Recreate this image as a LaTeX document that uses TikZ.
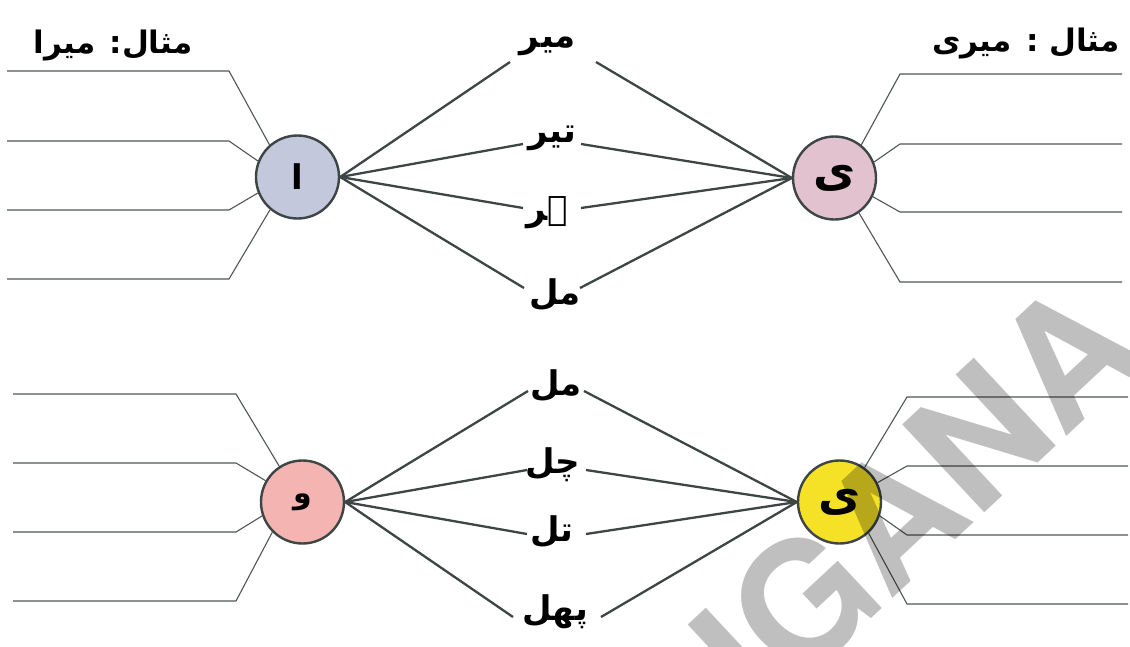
\documentclass[tikz,border=0pt]{standalone}
\usepackage{fontspec}
\TeXXeTstate=1
\newfontface\urduR[Script=Arabic]{DejaVu Sans}
\newfontface\urduB[Script=Arabic]{DejaVu Sans Bold}
\newfontface\urduM[Script=Arabic]{DejaVu Sans Mono Bold}
\newcommand\ufont{\urduB\iffontchar\font"0645 \else\urduR\fi}
\newcommand\hfont{\urduB\iffontchar\font"06C1 \else\urduM\iffontchar\font"06C1 \else\urduB\fi\fi}
\setsansfont{TeX Gyre Heros}
\definecolor{linec}{HTML}{3D4545}
\definecolor{ansc}{HTML}{505555}
\definecolor{cA}{HTML}{C3C8DC}
\definecolor{cB}{HTML}{E3C2CF}
\definecolor{cC}{HTML}{F3B4B2}
\definecolor{cD}{HTML}{F5E125}
\begin{document}
\begin{tikzpicture}[x=1pt,y=-1pt,
  fan/.style={draw=linec, line width=2.3pt},
  ans/.style={draw=ansc, line width=1.1pt},
  letter/.style={circle, draw=linec, line width=2.4pt, minimum size=83pt, inner sep=0pt},
  word/.style={font=\ufont\fontsize{34}{40}\selectfont, inner sep=0pt},
  title/.style={font=\ufont\fontsize{31}{38}\selectfont, inner sep=0pt}]
\useasboundingbox (0,0) rectangle (1130,646);
\fill[white] (0,0) rectangle (1130,646);

% titles
\node[title] (t1) at (113,46) {\beginR مثال: میرا\endR};
\node[title] (t2) at (1026,44) {\beginR مثال : میری\endR};

% circles
\node[letter, fill=cA, font=\ufont\fontsize{34}{40}\selectfont] (c1) at (297.5,177) {\beginR ا\endR};
\node[letter, fill=cB, font=\ufont\fontsize{46}{50}\selectfont] (c2) at (834.5,178) {\beginR ی\endR};
\node[letter, fill=cC, font=\ufont\fontsize{30}{36}\selectfont] (c3) at (302.5,502) {\beginR و\endR};
\node[letter, fill=cD, font=\ufont\fontsize{46}{50}\selectfont] (c4) at (839.5,502) {\beginR ی\endR};

% words
\node[word] (w1) at (548,46) {\beginR میر\endR};
\node[word] (w2) at (552,138) {\beginR تیر\endR};
\node[word, font=\hfont\fontsize{34}{40}\selectfont] (w3) at (547,213) {\beginR ہر\endR};
\node[word] (w4) at (555,295) {\beginR مل\endR};
\node[word] (w5) at (556,386) {\beginR مل\endR};
\node[word] (w6) at (553,465) {\beginR چل\endR};
\node[word] (w7) at (552,532) {\beginR تل\endR};
\node[word] (w8) at (555,612) {\beginR پھل\endR};

% fans
\foreach \x/\y [count=\k] in {510/62,523/144,523/208,524/288}{
  \coordinate (fa\k) at (\x,\y); \draw[fan] (c1.east) -- (fa\k);}
\foreach \x/\y [count=\k] in {596/62,581/144,581/208,580/288}{
  \coordinate (fb\k) at (\x,\y); \draw[fan] (fb\k) -- (c2.west);}
\foreach \x/\y [count=\k] in {528/391,527/470,527/534,513/617}{
  \coordinate (fc\k) at (\x,\y); \draw[fan] (c3.east) -- (fc\k);}
\foreach \x/\y [count=\k] in {584/391,586/470,586/534,601/617}{
  \coordinate (fd\k) at (\x,\y); \draw[fan] (fd\k) -- (c4.west);}

% answer lines
\foreach \a/\y [count=\k] in {131/71,158/141,202/210,230/279}{
  \coordinate (ab\k) at (229,\y); \coordinate (ae\k) at (7,\y);
  \draw[ans] (c1.\a) -- (ab\k) -- (ae\k);}
\foreach \a/\y [count=\k] in {51/74,22/144,-26/212,-55/282}{
  \coordinate (bb\k) at (900,\y); \coordinate (be\k) at (1122,\y);
  \draw[ans] (c2.\a) -- (bb\k) -- (be\k);}
\foreach \a/\y [count=\k] in {123/394,150/463,199/532,225/601}{
  \coordinate (cb\k) at (236,\y); \coordinate (ce\k) at (13,\y);
  \draw[ans] (c3.\a) -- (cb\k) -- (ce\k);}
\foreach \a/\y [count=\k] in {54/397,27/466,-19/535,-47/604}{
  \coordinate (db\k) at (907,\y); \coordinate (de\k) at (1128,\y);
  \draw[ans] (c4.\a) -- (db\k) -- (de\k);}

% watermark
\begin{scope}
\clip (0,0) rectangle (1130,646);
\node[rotate=43, text=black, text opacity=0.25, inner sep=0pt,
  font=\sffamily\bfseries\fontsize{165}{165}\selectfont] (wm) at (730,668) {TELANGANA};
\end{scope}
\end{tikzpicture}
\end{document}
